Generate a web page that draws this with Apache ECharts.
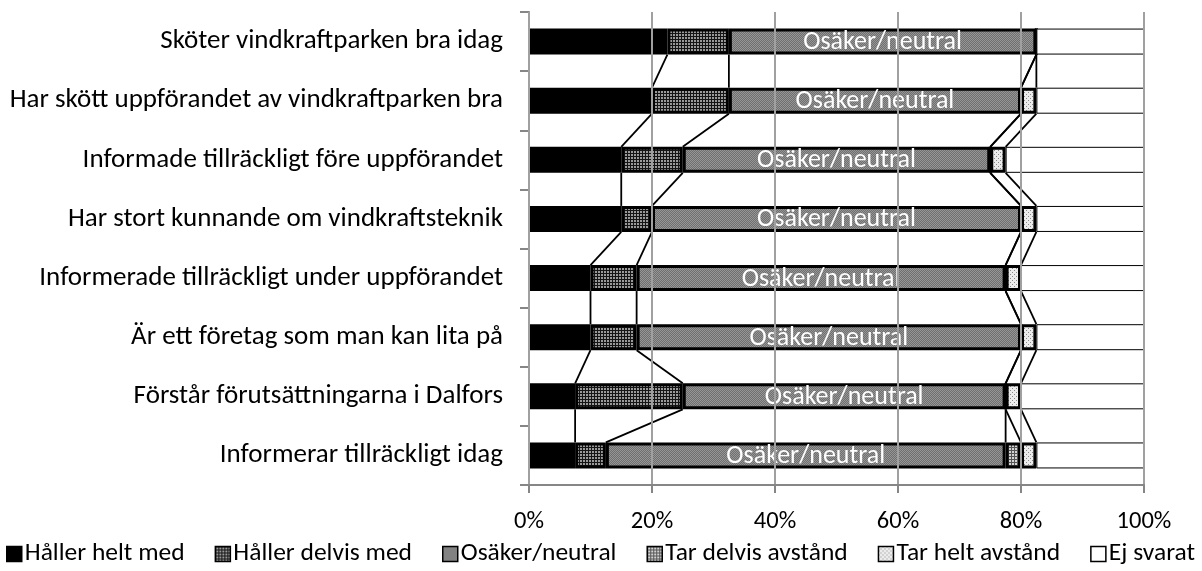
<!DOCTYPE html>
<html>
<head>
<meta charset="utf-8">
<script src="https://cdn.jsdelivr.net/npm/echarts@6/dist/echarts.min.js"></script>
<style>
  html, body { margin: 0; padding: 0; background: #fff; }
  #chart { width: 1202px; height: 571px; }
</style>
</head>
<body>
<div id="chart"></div>
<script>
// påståenden, uppifrån och ned
const categories = [
  'Sköter vindkraftparken bra idag',
  'Har skött uppförandet av vindkraftparken bra',
  'Informade tillräckligt före uppförandet',
  'Har stort kunnande om vindkraftsteknik',
  'Informerade tillräckligt under uppförandet',
  'Är ett företag som man kan lita på',
  'Förstår förutsättningarna i Dalfors',
  'Informerar tillräckligt idag'
];
const seriesNames = ['Håller helt med', 'Håller delvis med', 'Osäker/neutral', 'Tar delvis avstånd', 'Tar helt avstånd', 'Ej svarat'];

// andelar i procent
const hallerHelt   = [22.5, 20, 15, 15, 10, 10, 7.5, 7.5];
const hallerDelvis = [10, 12.5, 10, 5, 7.5, 7.5, 17.5, 5];
const osaker       = [50, 47.5, 50, 60, 60, 62.5, 52.5, 65];
const tarDelvis    = [0, 0, 0, 0, 0, 0, 0, 2.5];
const tarHelt      = [0, 2.5, 2.5, 2.5, 2.5, 2.5, 2.5, 2.5];
const ejSvarat     = [17.5, 17.5, 22.5, 17.5, 20, 17.5, 20, 17.5];
const xTicks = [0, 20, 40, 60, 80, 100];

const FONT = 'Carlito, Lato, sans-serif';
const BAR_H = 26;

// små mönster som i Excel
function pattern(size, bg, draw) {
  const c = document.createElement('canvas');
  c.width = c.height = size;
  const ctx = c.getContext('2d');
  ctx.fillStyle = bg;
  ctx.fillRect(0, 0, size, size);
  draw(ctx);
  return { image: c, repeat: 'repeat' };
}
const fills = [
  '#000000',
  pattern(3, '#151515', ctx => { ctx.fillStyle = '#9a9a9a'; ctx.fillRect(1, 1, 2, 2); }),
  pattern(2, '#6f6f6f', ctx => { ctx.fillStyle = '#969696'; ctx.fillRect(0, 0, 1, 1); ctx.fillRect(1, 1, 1, 1); }),
  pattern(3, '#d4d4d4', ctx => { ctx.fillStyle = '#555'; ctx.fillRect(0, 0, 3, 1); ctx.fillRect(0, 0, 1, 3); }),
  pattern(4, '#ececec', ctx => { ctx.fillStyle = '#8a8a8a'; ctx.fillRect(0, 0, 1, 1); ctx.fillRect(2, 2, 1, 1); }),
  '#ffffff'
];

const values = [hallerHelt, hallerDelvis, osaker, tarDelvis, tarHelt, ejSvarat];

// serielinjer mellan staplarna: [kategori, gräns, kumulativt här, kumulativt nästa]
const seriesLineData = [];
for (let i = 0; i < categories.length - 1; i++) {
  let a = 0, b = 0;
  for (let k = 0; k < 5; k++) {
    a += values[k][i];
    b += values[k][i + 1];
    seriesLineData.push([i, k, a, b]);
  }
}

const chart = echarts.init(document.getElementById('chart'));

const barSeries = seriesNames.map((name, k) => ({
  name,
  type: 'bar',
  stack: 'total',
  barWidth: BAR_H,
  data: values[k],
  itemStyle: {
    color: fills[k],
    borderColor: '#000',
    borderWidth: k === 5 ? 1 : 3
  },
  label: k === 2 ? {
    show: true,
    position: 'inside',
    formatter: name,
    color: '#fff',
    fontFamily: FONT,
    fontSize: 26,
    offset: [0, 1]
  } : { show: false },
  emphasis: { disabled: true }
}));

const option = {
  animation: false,
  grid: { left: 529, right: 58, top: 12, bottom: 86 },
  xAxis: {
    type: 'value',
    min: 0,
    max: 100,
    interval: 20,
    z: 5,
    axisLine: { show: true, lineStyle: { color: '#868686', width: 2 } },
    axisTick: { show: true, length: 8, lineStyle: { color: '#868686', width: 2 } },
    splitLine: { show: true, lineStyle: { color: '#a0a0a0', width: 2 } },
    axisLabel: {
      formatter: v => xTicks.includes(v) ? v + '%' : '',
      color: '#000',
      fontFamily: FONT,
      fontSize: 24.5,
      margin: 24
    }
  },
  yAxis: {
    type: 'category',
    inverse: true,
    data: categories,
    axisLine: { show: true, lineStyle: { color: '#868686', width: 2 } },
    axisTick: { show: true, length: 9, lineStyle: { color: '#868686', width: 2 } },
    axisLabel: {
      color: '#000',
      fontFamily: FONT,
      fontSize: 27,
      margin: 26
    }
  },
  legend: {
    data: seriesNames,
    left: 6,
    top: 541,
    width: 1196,
    padding: 0,
    icon: 'rect',
    itemWidth: 15,
    itemHeight: 15,
    itemGap: 30,
    itemStyle: { borderColor: '#000', borderWidth: 1.5 },
    textStyle: { color: '#000', fontFamily: FONT, fontSize: 25.5, padding: [0, 0, 0, -2] }
  },
  series: barSeries.concat([{
    type: 'custom',
    name: 'serielinjer',
    coordinateSystem: 'cartesian2d',
    encode: { x: 2, y: 0 },
    z: 3,
    silent: true,
    data: seriesLineData,
    renderItem: function (params, api) {
      const i = api.value(0);
      const p1 = api.coord([api.value(2), i]);
      const p2 = api.coord([api.value(3), i + 1]);
      const half = BAR_H / 2;
      return {
        type: 'line',
        shape: { x1: p1[0], y1: p1[1] + half, x2: p2[0], y2: p2[1] - half },
        style: { stroke: '#000', lineWidth: 1.8 }
      };
    }
  }])
};

chart.setOption(option);
</script>
</body>
</html>
